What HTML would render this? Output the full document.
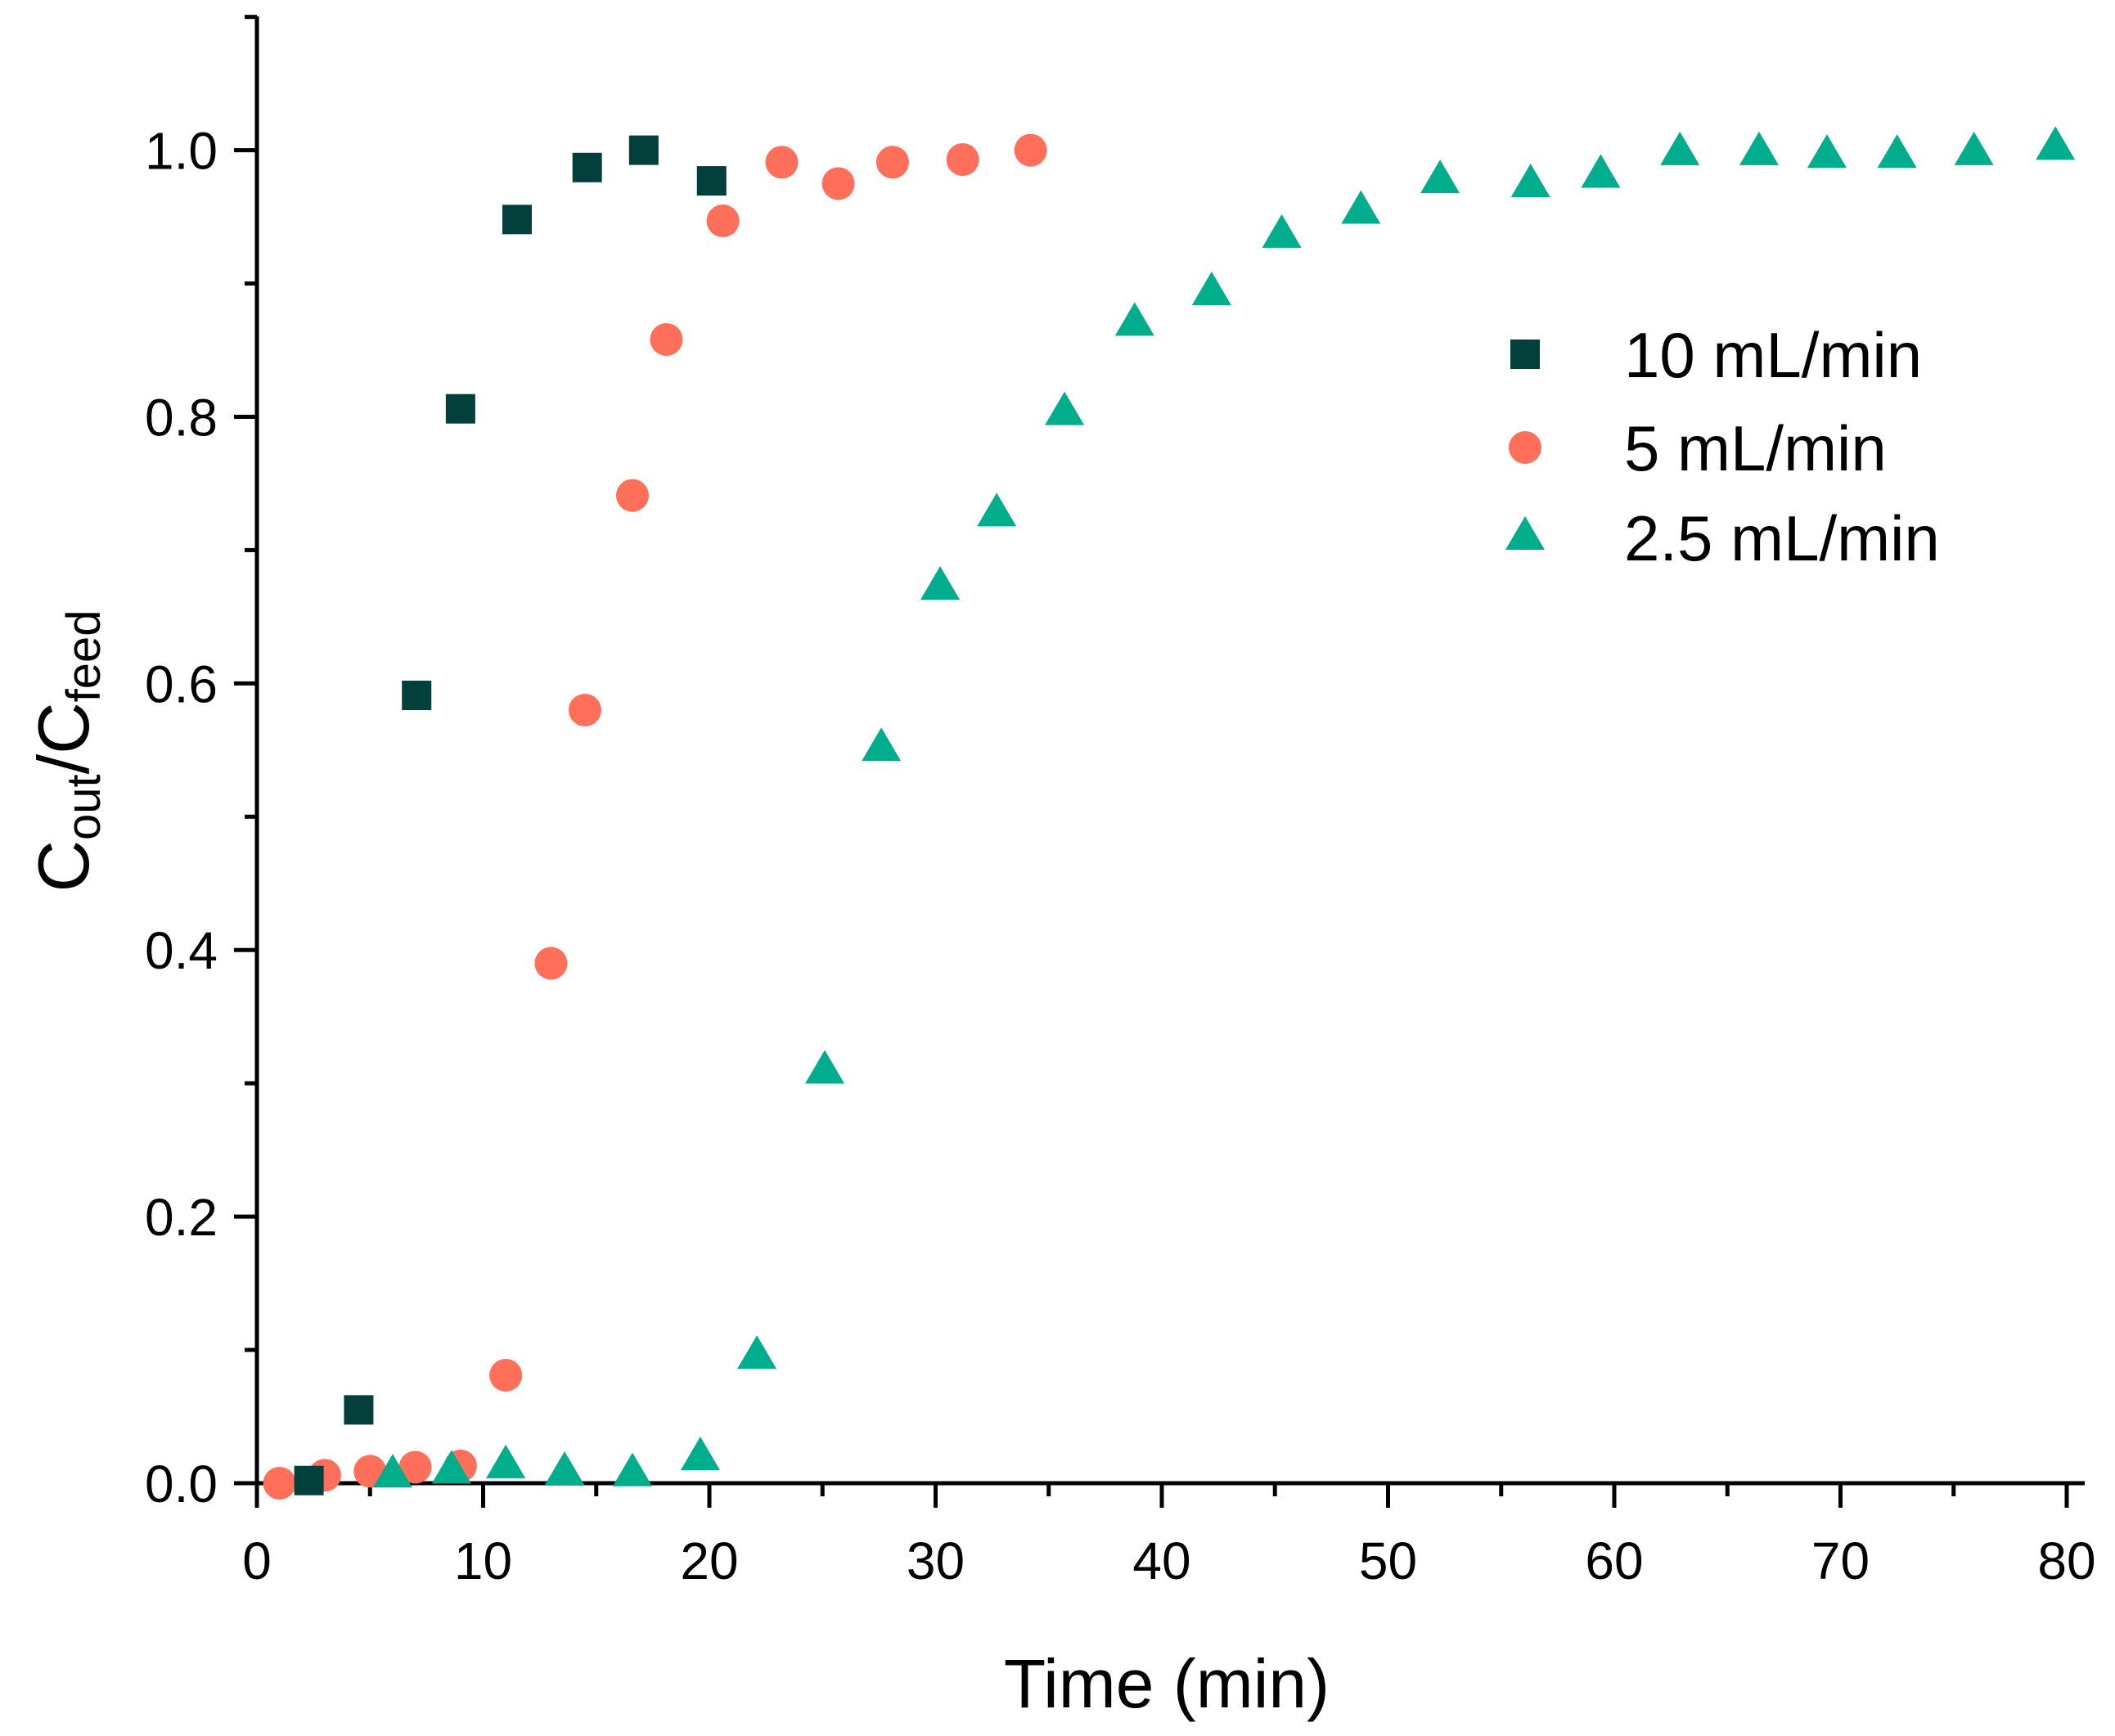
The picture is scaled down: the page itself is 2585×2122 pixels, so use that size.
<!DOCTYPE html>
<html><head><meta charset="utf-8"><style>
html,body{margin:0;padding:0;background:#fff;}
svg{display:block;font-family:"Liberation Sans",sans-serif;}
</style></head><body>
<svg id="chart" width="2585" height="2122" viewBox="0 0 2585 2122" xmlns="http://www.w3.org/2000/svg">
<g id="axes"></g>
<g id="marks"></g>
<g id="legend"></g>
<text x="1426" y="2087" font-size="84" text-anchor="middle">Time (min)</text>
<text transform="translate(108,918) rotate(-90)" font-size="88" text-anchor="middle">C<tspan font-size="58" dy="14">out</tspan><tspan dy="-14">/C</tspan><tspan font-size="58" dy="14">feed</tspan></text>
</svg>
<script>
const xTicks=[0,10,20,30,40,50,60,70,80];
const yTicks=[0.0,0.2,0.4,0.6,0.8,1.0];
const yTickLabels=["0.0","0.2","0.4","0.6","0.8","1.0"];
const t10=[2.3,4.5,7.06,9.0,11.5,14.6,17.1,20.1];
const c10=[0.002,0.055,0.591,0.806,0.948,0.987,1.0,0.977];
const t5=[1,3,5,7,9,11,13,14.5,16.6,18.1,20.6,23.2,25.7,28.1,31.2,34.2];
const c5=[0,0.006,0.009,0.012,0.013,0.081,0.39,0.58,0.741,0.858,0.947,0.991,0.975,0.991,0.993,1.0];
const t25=[6,8.6,11,13.6,16.6,19.6,22.1,25.1,27.6,30.2,32.7,35.7,38.8,42.2,45.3,48.8,52.3,56.3,59.4,62.9,66.4,69.4,72.5,75.9,79.5];
const c25=[0.006,0.009,0.013,0.008,0.007,0.019,0.095,0.309,0.551,0.672,0.727,0.803,0.87,0.893,0.936,0.954,0.977,0.974,0.981,0.998,0.998,0.996,0.996,0.998,1.002];
const seriesNames=["10 mL/min","5 mL/min","2.5 mL/min"];

const X0=314,X1=2526,Y0=1813,Y1=183.6;
const xs=v=>X0+(X1-X0)*v/80;
const ys=v=>Y0-(Y0-Y1)*v;
const NS="http://www.w3.org/2000/svg";
function mk(tag,attrs,parent){const e=document.createElementNS(NS,tag);for(const k in attrs)e.setAttribute(k,attrs[k]);parent.appendChild(e);return e;}
const axes=document.getElementById('axes'),marks=document.getElementById('marks'),legend=document.getElementById('legend');

let l=mk('line',{x1:X0,y1:Y0,x2:2548,y2:Y0,stroke:'#000','stroke-width':5},axes);


l=mk('line',{x1:X0,y1:20,x2:X0,y2:Y0+2,stroke:'#000','stroke-width':5},axes);


for(let v=0;v<=80;v+=5){
  const major=v%10===0;
  const t=mk('line',{x1:xs(v),y1:Y0,x2:xs(v),y2:Y0+(major?30:16),stroke:'#000','stroke-width':5},axes);
  
  
}
xTicks.forEach(v=>{
  const t=mk('text',{x:xs(v),y:1930,'font-size':64,'text-anchor':'middle'},axes);
  t.textContent=String(v);
  
  
});
for(let i=0;i<=11;i++){
  const v=i/10,major=i%2===0;
  const t=mk('line',{x1:X0-(major?28:15),y1:ys(v),x2:X0,y2:ys(v),stroke:'#000','stroke-width':5},axes);
  
  
}
yTicks.forEach((v,i)=>{
  const t=mk('text',{x:266,y:ys(v)+23,'font-size':64,'text-anchor':'end'},axes);
  t.textContent=yTickLabels[i];
  
  
});
function square(x,y,p,col){return mk('rect',{x:x-18,y:y-18,width:36,height:36,fill:col},p);}
function circle(x,y,p,col){return mk('circle',{cx:x,cy:y,r:20,fill:col},p);}
function tri(x,y,p,col){return mk('polygon',{points:`${x},${y-26} ${x-24},${y+15} ${x+24},${y+15}`,fill:col},p);}
const cols=['#033f3b','#ff6f59','#00ad8c'];
t5.forEach((t,i)=>{const m=circle(xs(t),ys(c5[i]),marks,cols[1]);
  
  });
t10.forEach((t,i)=>{const m=square(xs(t),ys(c10[i]),marks,cols[0]);
  
  });
t25.forEach((t,i)=>{const m=tri(xs(t),ys(c25[i]),marks,cols[2]);
  
  });
const ly=[433,547,657],shapes=[square,circle,tri];
seriesNames.forEach((n,i)=>{
  const g=mk('g',{},legend);
  
  
  shapes[i](1864,ly[i],g,cols[i]);
  const t=mk('text',{x:1985,y:ly[i]+28,'font-size':78},g);
  t.textContent=n;
});
</script>
</body></html>
